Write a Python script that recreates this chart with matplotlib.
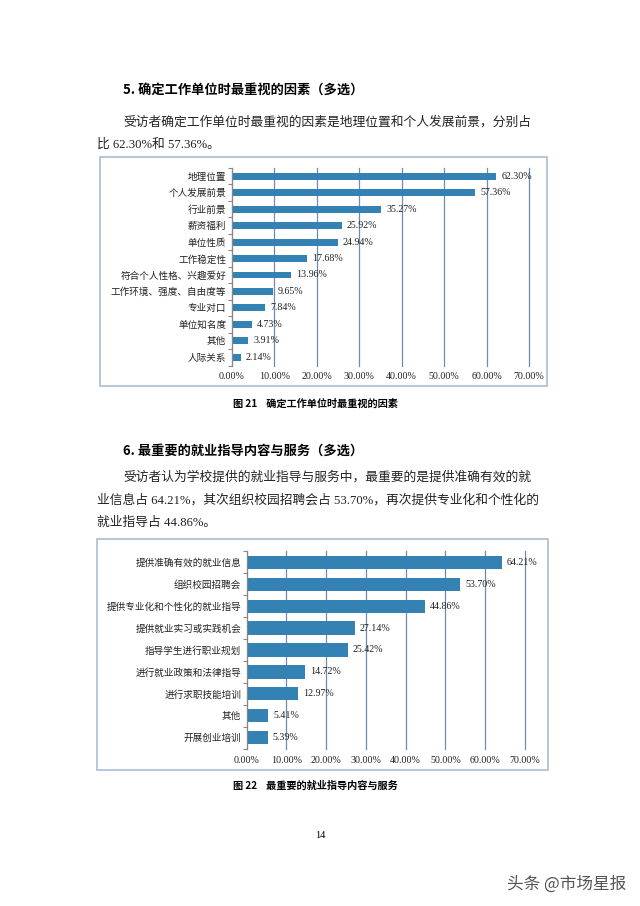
import matplotlib
matplotlib.use("Agg")
import matplotlib.pyplot as plt
from matplotlib.patches import Rectangle
import numpy as np

plt.rcParams['font.family'] = ['Liberation Serif', 'Noto Sans CJK SC', 'DejaVu Sans']

# ---- data ----
cats1 = ["地理位置", "个人发展前景", "行业前景", "薪资福利", "单位性质", "工作稳定性",
         "符合个人性格、兴趣爱好", "工作环境、强度、自由度等", "专业对口", "单位知名度",
         "其他", "人际关系"]
vals1 = [62.30, 57.36, 35.27, 25.92, 24.94, 17.68, 13.96, 9.65, 7.84, 4.73, 3.91, 2.14]

cats2 = ["提供准确有效的就业信息", "组织校园招聘会", "提供专业化和个性化的就业指导",
         "提供就业实习或实践机会", "指导学生进行职业规划", "进行就业政策和法律指导",
         "进行求职技能培训", "其他", "开展创业培训"]
vals2 = [64.21, 53.70, 44.86, 27.14, 25.42, 14.72, 12.97, 5.41, 5.39]

xticks = [0, 10, 20, 30, 40, 50, 60, 70]
xticklabels = ["0.00%", "10.00%", "20.00%", "30.00%", "40.00%", "50.00%", "60.00%", "70.00%"]

W, H = 640, 906
fig = plt.figure(figsize=(W / 100, H / 100), dpi=100)
fig.patch.set_facecolor('white')


def fx(x):
    return x / W


def fy(y):
    return 1 - y / H


def ftext(x, y, s, **kw):
    fig.text(fx(x), fy(y), s, va='center', **kw)


BAR = '#3482b4'
GRID = '#6d8db5'
BORDER = '#aabdd3'


def box(x0, y0, x1, y1):
    fig.patches.append(Rectangle((fx(x0), fy(y1)), fx(x1 - x0), (y1 - y0) / H,
                                 transform=fig.transFigure, fill=False,
                                 edgecolor=BORDER, linewidth=1.2))


def chart(rect, cats, vals, barh):
    x0, y0, x1, y1 = rect
    ax = fig.add_axes([fx(x0), fy(y1), fx(x1 - x0), (y1 - y0) / H])
    n = len(cats)
    y = np.arange(n)
    ax.barh(y, vals, height=barh, color=BAR, zorder=3)
    ax.set_ylim(n - 0.5, -0.5)
    ax.set_xlim(0, 70)
    ax.set_xticks(xticks)
    ax.set_xticklabels(xticklabels, fontsize=7.2)
    ax.set_yticks(y)
    ax.set_yticklabels(cats, fontsize=6.9, family=['Noto Sans CJK SC'])
    ax.set_yticks(np.arange(n + 1) - 0.5, minor=True)
    ax.tick_params(axis='y', which='major', length=0, pad=4, colors='#222222')
    ax.tick_params(axis='y', which='minor', length=3, color='#888888', width=0.8)
    ax.tick_params(axis='x', length=0, pad=5, colors='#222222')
    ax.grid(axis='x', color=GRID, linewidth=0.9, zorder=0)
    for gl in ax.get_xgridlines():
        gl.set_clip_on(False)
    for s in ['top', 'right', 'bottom']:
        ax.spines[s].set_visible(False)
    ax.spines['left'].set_color('#888888')
    ax.spines['left'].set_zorder(4)
    for yi, v in zip(y, vals):
        ax.text(v + 1.2, yi, f"{v:.2f}%", va='center', ha='left', fontsize=7.2,
                color='#222222', zorder=5)
    return ax


# ---- section 5 ----
ftext(123, 90, "5. 确定工作单位时最重视的因素（多选）", fontsize=9.5, fontweight='bold',
      family=['Noto Sans CJK SC'])
ftext(123, 122, "受访者确定工作单位时最重视的因素是地理位置和个人发展前景，分别占",
      fontsize=9.2, family=['Noto Sans CJK SC'], color='#222222')
ftext(97, 145, "比 62.30%和 57.36%。", fontsize=9.2, color='#222222')

box(100, 157, 547, 386)
chart((231.7, 168, 529, 365.5), cats1, vals1, 0.42)
ftext(233, 404, "图 21    确定工作单位时最重视的因素", fontsize=7.3, fontweight='bold',
      family=['Noto Sans CJK SC'])

# ---- section 6 ----
ftext(123, 451, "6. 最重要的就业指导内容与服务（多选）", fontsize=9.5, fontweight='bold',
      family=['Noto Sans CJK SC'])
ftext(123, 477, "受访者认为学校提供的就业指导与服务中，最重要的是提供准确有效的就",
      fontsize=9.2, family=['Noto Sans CJK SC'], color='#222222')
ftext(97, 500, "业信息占 64.21%，其次组织校园招聘会占 53.70%，再次提供专业化和个性化的",
      fontsize=9.2, color='#222222')
ftext(97, 523, "就业指导占 44.86%。", fontsize=9.2, color='#222222')

box(97, 539, 548, 770)
chart((246.7, 551.3, 525, 748.7), cats2, vals2, 0.6)
ftext(233, 786, "图 22    最重要的就业指导内容与服务", fontsize=7.3, fontweight='bold',
      family=['Noto Sans CJK SC'])

# ---- footer ----
fig.text(fx(320), fy(836), "14", fontsize=7.5, ha='center', va='center')
fig.text(fx(626), fy(884), "头条 @市场星报", fontsize=12, ha='right', va='center',
         color='#555555', family=['Noto Sans CJK SC'])

fig.savefig("out.png", dpi=100, facecolor='white')
